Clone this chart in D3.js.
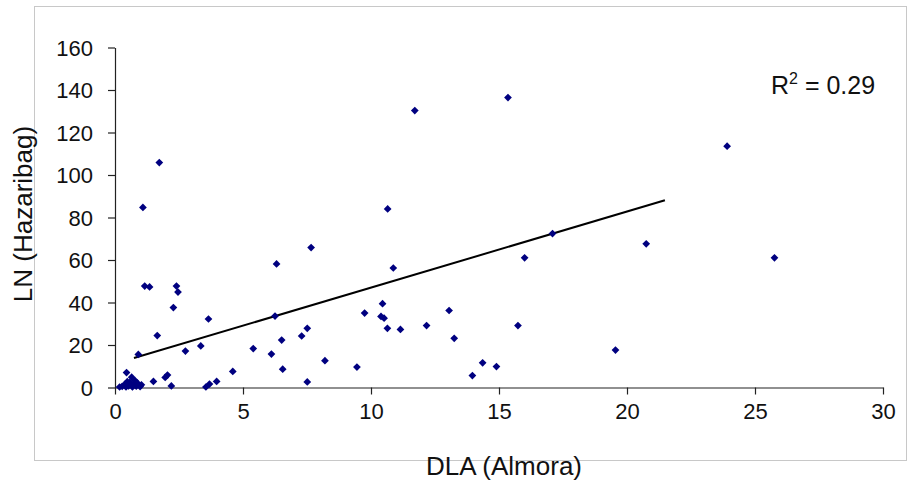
<!DOCTYPE html>
<html>
<head>
<meta charset="utf-8">
<script src="https://cdn.jsdelivr.net/npm/d3@7"></script>
<style>
  html, body { margin: 0; padding: 0; background: #fff; }
  svg { display: block; }
  text { font-family: "Liberation Sans", Arial, sans-serif; }
</style>
</head>
<body>
<svg id="chart" width="908" height="481"></svg>
<script>
// ---- data ----
const dla = [1.75, 1.11, 1.18, 1.37, 2.42, 2.48, 2.30, 1.67, 0.93, 3.67,
             3.37, 2.77, 1.52, 1.98, 2.07, 2.22, 3.57, 3.71, 3.99, 4.62,
             0.47, 0.67, 5.42, 6.13, 6.53, 6.27, 6.33, 7.68, 7.31, 7.53,
             6.57, 8.22, 7.53, 9.47, 9.77, 10.47, 10.41, 10.53, 10.66, 11.17,
             12.19, 10.67, 10.89, 11.73, 13.07, 13.27, 13.98, 14.38, 14.92, 15.37,
             15.76, 16.02, 17.11, 19.57, 20.77, 23.93, 25.78,
             0.20, 0.30, 0.40, 0.45, 0.55, 0.60, 0.70, 0.75, 0.80, 0.85, 0.90, 1.00, 1.05, 0.50];
const ln  = [105.6, 84.5, 47.5, 47.1, 47.5, 44.7, 37.4, 24.2, 15.3, 32.0,
             19.3, 16.9, 2.6, 4.5, 5.6, 0.5, 0.0, 1.4, 2.6, 7.3,
             6.8, 4.6, 18.1, 15.5, 22.1, 33.4, 57.9, 65.6, 24.0, 27.6,
             8.4, 12.4, 2.4, 9.4, 34.8, 39.2, 33.2, 32.4, 27.6, 27.1,
             28.9, 83.8, 56.0, 130.1, 36.0, 22.9, 5.4, 11.4, 9.6, 136.2,
             28.9, 60.8, 72.2, 17.4, 67.4, 113.3, 60.8,
             0.0, 0.3, 1.2, 0.0, 0.5, 2.2, 0.0, 1.3, 3.0, 0.4, 1.8, 0.2, 1.0, 2.5];
const xTicks = [0, 5, 10, 15, 20, 25, 30];
const yTicks = [0, 20, 40, 60, 80, 100, 120, 140, 160];
const trendSlope = 3.58;
const trendIntercept = 10.9;
const trendRange = [0.76, 21.5];
const r2Label = "0.29";
const xTitle = "DLA (Almora)";
const yTitle = "LN (Hazaribag)";

// ---- layout ----
const svg = d3.select("#chart");
const x = d3.scaleLinear().domain([0, 30]).range([114.5, 882.5]);
const y = d3.scaleLinear().domain([0, 160]).range([387, 47]);

// outer frame
svg.append("rect")
  .attr("x", 34.5).attr("y", 6.5).attr("width", 872).attr("height", 454)
  .attr("fill", "none").attr("stroke", "#c8c8c8").attr("stroke-width", 1);

// axes
const xAxis = d3.axisBottom(x).tickValues(xTicks).tickSize(7).tickSizeOuter(0).tickPadding(9)
  .tickFormat(d3.format("d"));
const yAxis = d3.axisLeft(y).tickValues(yTicks).tickSize(7).tickSizeOuter(0).tickPadding(15)
  .tickFormat(d3.format("d"));

const gx = svg.append("g").attr("transform", `translate(0.5,${y(0) + 0.5})`).call(xAxis);
const gy = svg.append("g").attr("transform", `translate(${x(0) + 0.5},0.5)`).call(yAxis);
[gx, gy].forEach(g => {
  g.select(".domain").attr("stroke", "#222").attr("stroke-width", 1.2);
  g.selectAll(".tick line").attr("stroke", "#222").attr("stroke-width", 1.2);
  g.selectAll(".tick text").attr("font-size", 22).attr("fill", "#111")
    .attr("font-family", "'Liberation Sans', Arial, sans-serif");
});
gy.selectAll(".tick text").attr("dy", "0.35em");

// trend line
svg.append("line")
  .attr("x1", x(trendRange[0])).attr("y1", y(trendIntercept + trendSlope * trendRange[0]))
  .attr("x2", x(trendRange[1])).attr("y2", y(trendIntercept + trendSlope * trendRange[1]))
  .attr("stroke", "#000").attr("stroke-width", 2);

// points
const pts = dla.map((d, i) => ({ x: d, y: ln[i] }));
const sym = d3.symbol().type(d3.symbolSquare).size(30);
svg.append("g").selectAll("path").data(pts).join("path")
  .attr("d", sym)
  .attr("transform", d => `translate(${x(d.x)},${y(d.y)}) rotate(45)`)
  .attr("fill", "#000080");

// R² label
const rt = svg.append("text").attr("x", 771).attr("y", 94).attr("font-size", 25).attr("fill", "#111");
rt.append("tspan").text("R");
rt.append("tspan").attr("font-size", 16).attr("dy", -10).text("2");
rt.append("tspan").attr("dy", 10).text(" = " + r2Label);

// axis titles
svg.append("text").attr("x", 504).attr("y", 475).attr("text-anchor", "middle")
  .attr("font-size", 26).attr("fill", "#111").text(xTitle);
svg.append("text").attr("transform", "translate(32,214) rotate(-90)").attr("text-anchor", "middle")
  .attr("font-size", 26).attr("fill", "#111").text(yTitle);
</script>
</body>
</html>
